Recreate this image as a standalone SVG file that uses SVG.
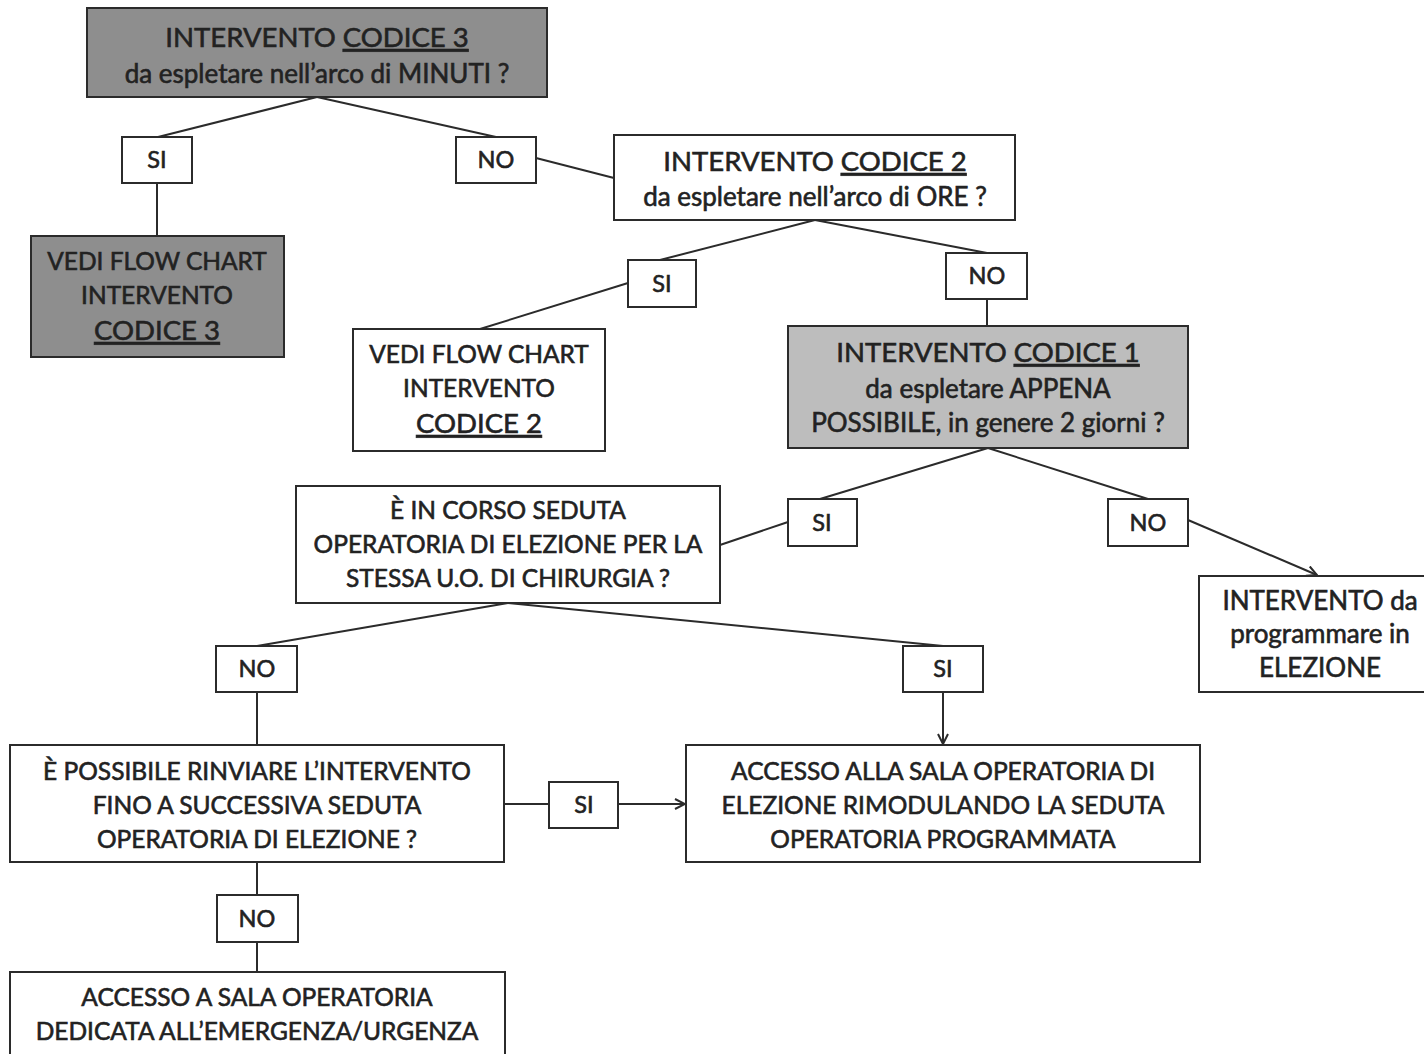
<svg xmlns="http://www.w3.org/2000/svg" width="1424" height="1054" viewBox="0 0 1424 1054">
<style>
.box{fill:#fff;stroke:#2b2b2b;stroke-width:2}
.dark{fill:#8e8e8e}
.light{fill:#bdbdbd}
text{font-family:Lato,"Open Sans","Liberation Sans",sans-serif;fill:#222;stroke:#222;stroke-width:0.6;text-anchor:middle;font-size:24.5px}
.big{font-size:27.5px}
.mix{font-size:26px}
.lbl{font-size:23.5px}
.u{text-decoration:underline}
.c line,.c path{stroke:#2b2b2b;stroke-width:2;fill:none}
</style>
<defs>
<marker id="arr" viewBox="0 0 12 12" refX="11" refY="6" markerWidth="12" markerHeight="12" markerUnits="userSpaceOnUse" orient="auto">
<path d="M1,1 L11,6 L1,11" fill="none" stroke="#2b2b2b" stroke-width="2"/>
</marker>
</defs>
<rect width="1424" height="1054" fill="#fff"/>
<g class="c">
<line x1="317" y1="97" x2="158" y2="137"/>
<line x1="317" y1="97" x2="496" y2="137"/>
<line x1="536" y1="158" x2="614" y2="178"/>
<line x1="157" y1="183" x2="157" y2="236"/>
<line x1="815" y1="220" x2="660" y2="260"/>
<line x1="628" y1="283" x2="480" y2="329"/>
<line x1="815" y1="220" x2="987" y2="253"/>
<line x1="987" y1="299" x2="987" y2="326"/>
<line x1="988" y1="448" x2="820" y2="499"/>
<line x1="988" y1="448" x2="1148" y2="499"/>
<line x1="788" y1="522" x2="720" y2="545"/>
<line x1="1188" y1="520" x2="1317" y2="575" marker-end="url(#arr)"/>
<line x1="508" y1="603" x2="257" y2="646"/>
<line x1="508" y1="603" x2="943" y2="646"/>
<line x1="257" y1="692" x2="257" y2="745"/>
<line x1="943" y1="692" x2="943" y2="744" marker-end="url(#arr)"/>
<line x1="504" y1="804" x2="549" y2="804"/>
<line x1="618" y1="804" x2="685" y2="804" marker-end="url(#arr)"/>
<line x1="257" y1="862" x2="257" y2="895"/>
<line x1="257" y1="942" x2="257" y2="972"/>
</g>
<g id="n-codice3">
<rect class="box dark" x="87" y="8" width="460" height="89"/>
<text x="317" y="47" class="big">INTERVENTO <tspan class="u">CODICE 3</tspan></text>
<text x="317" y="83" class="mix">da espletare nell’arco di MINUTI ?</text>
</g>
<g id="n-si1"><rect class="box" x="122" y="137" width="70" height="46"/><text x="157" y="168" class="lbl">SI</text></g>
<g id="n-no1"><rect class="box" x="456" y="137" width="80" height="46"/><text x="496" y="168" class="lbl">NO</text></g>
<g id="n-codice2">
<rect class="box" x="614" y="135" width="401" height="85"/>
<text x="815" y="171" class="big">INTERVENTO <tspan class="u">CODICE 2</tspan></text>
<text x="815" y="206" class="mix">da espletare nell’arco di ORE ?</text>
</g>
<g id="n-vedi3">
<rect class="box dark" x="31" y="236" width="253" height="121"/>
<text x="157" y="270">VEDI FLOW CHART</text>
<text x="157" y="304">INTERVENTO</text>
<text x="157" y="340" class="big u">CODICE 3</text>
</g>
<g id="n-si2"><rect class="box" x="628" y="260" width="68" height="47"/><text x="662" y="292" class="lbl">SI</text></g>
<g id="n-no2"><rect class="box" x="946" y="253" width="81" height="46"/><text x="987" y="284" class="lbl">NO</text></g>
<g id="n-vedi2">
<rect class="box" x="353" y="329" width="252" height="122"/>
<text x="479" y="363">VEDI FLOW CHART</text>
<text x="479" y="397">INTERVENTO</text>
<text x="479" y="433" class="big u">CODICE 2</text>
</g>
<g id="n-codice1">
<rect class="box light" x="788" y="326" width="400" height="122"/>
<text x="988" y="362" class="big">INTERVENTO <tspan class="u">CODICE 1</tspan></text>
<text x="988" y="398" class="mix">da espletare APPENA</text>
<text x="988" y="432" class="mix">POSSIBILE, in genere 2 giorni ?</text>
</g>
<g id="n-incorso">
<rect class="box" x="296" y="486" width="424" height="117"/>
<text x="508" y="519">È IN CORSO SEDUTA</text>
<text x="508" y="553">OPERATORIA DI ELEZIONE PER LA</text>
<text x="508" y="587">STESSA U.O. DI CHIRURGIA ?</text>
</g>
<g id="n-si3"><rect class="box" x="788" y="499" width="69" height="47"/><text x="822" y="531" class="lbl">SI</text></g>
<g id="n-no3"><rect class="box" x="1108" y="499" width="80" height="47"/><text x="1148" y="531" class="lbl">NO</text></g>
<g id="n-elezione">
<rect class="box" x="1199" y="576" width="235" height="116"/>
<text x="1320" y="610" class="mix">INTERVENTO da</text>
<text x="1320" y="643" class="mix">programmare in</text>
<text x="1320" y="677" class="mix">ELEZIONE</text>
</g>
<g id="n-no4"><rect class="box" x="216" y="646" width="81" height="46"/><text x="257" y="677" class="lbl">NO</text></g>
<g id="n-si4"><rect class="box" x="903" y="646" width="80" height="46"/><text x="943" y="677" class="lbl">SI</text></g>
<g id="n-rinviare">
<rect class="box" x="10" y="745" width="494" height="117"/>
<text x="257" y="780">È POSSIBILE RINVIARE L’INTERVENTO</text>
<text x="257" y="814">FINO A SUCCESSIVA SEDUTA</text>
<text x="257" y="848">OPERATORIA DI ELEZIONE ?</text>
</g>
<g id="n-si5"><rect class="box" x="549" y="782" width="69" height="46"/><text x="584" y="813" class="lbl">SI</text></g>
<g id="n-accesso2">
<rect class="box" x="686" y="745" width="514" height="117"/>
<text x="943" y="780">ACCESSO ALLA SALA OPERATORIA DI</text>
<text x="943" y="814">ELEZIONE RIMODULANDO LA SEDUTA</text>
<text x="943" y="848">OPERATORIA PROGRAMMATA</text>
</g>
<g id="n-no5"><rect class="box" x="217" y="895" width="81" height="47"/><text x="257" y="927" class="lbl">NO</text></g>
<g id="n-accesso1">
<rect class="box" x="10" y="972" width="495" height="100"/>
<text x="257" y="1006">ACCESSO A SALA OPERATORIA</text>
<text x="257" y="1040">DEDICATA ALL’EMERGENZA/URGENZA</text>
</g>
</svg>
